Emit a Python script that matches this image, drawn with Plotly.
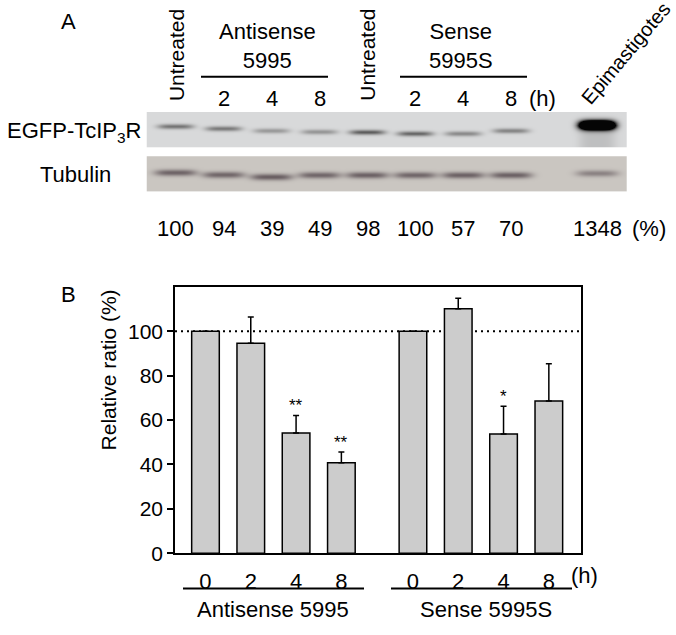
import numpy as np
import plotly.graph_objects as go

W, H = 676, 635
FONT = "Arial, 'Liberation Sans', sans-serif"

# ---- panel A: western blot ----
lane_labels = ["Untreated", "2", "4", "8", "Untreated", "2", "4", "8", "Epimastigotes"]
blot_pct = [100, 94, 39, 49, 98, 100, 57, 70, 1348]
egfp_signal = [0.52, 0.5, 0.34, 0.36, 0.62, 0.58, 0.42, 0.45, 2.6]
tubulin_signal = [0.8, 0.78, 0.85, 0.78, 0.82, 0.78, 0.82, 0.82, 0.55]

# ---- panel B: quantification ----
hours = ["0", "2", "4", "8"]
groups = ["Antisense 5995", "Sense 5995S"]
antisense_mean = [100, 94.6, 54.2, 40.8]
antisense_sem = [0, 11.9, 7.9, 4.8]
antisense_sig = ["", "", "**", "**"]
sense_mean = [100, 110.2, 53.7, 68.6]
sense_sem = [0, 4.7, 12.5, 16.8]
sense_sig = ["", "", "*", ""]


def px(x):
    return x / W


def py(y):
    return 1 - y / H


# lane layout: 8 lanes evenly spaced, an empty lane, then epimastigotes
lane_pos = list(range(8)) + [8.8]
LANE_RANGE = [-0.61, 9.41]
egfp_rows = [0.58, 0.52, 0.46, 0.43, 0.42, 0.38, 0.38, 0.46, 0.62]
egfp_thick = [0.07] * 8 + [0.13]
tub_rows = [0.52, 0.46, 0.4, 0.45, 0.45, 0.45, 0.45, 0.45, 0.5]


def band_image(signal, rows, thick, half_width):
    xs = np.linspace(LANE_RANGE[0], LANE_RANGE[1], 481)
    ys = np.linspace(0, 1, 37)
    X, Y = np.meshgrid(xs, ys)
    z = np.zeros_like(X)
    for pos, s, r, t in zip(lane_pos, signal, rows, thick):
        prof = np.exp(-np.abs((X - pos) / half_width) ** 4)
        z += s * prof * np.exp(-((Y - r) / t) ** 2)
        if s > 1:  # overloaded lane smears downwards
            z += 0.14 * prof * (Y < r)
    return xs, ys, np.clip(z, 0, 1)


fig = go.Figure()

xs, ys, z = band_image(egfp_signal, egfp_rows, egfp_thick, 0.38)
fig.add_trace(go.Heatmap(
    x=xs, y=ys, z=z, zmin=0, zmax=1, showscale=False, hoverinfo="skip",
    colorscale=[[0, "#d8d9da"], [0.45, "#858585"], [1, "#050505"]],
    xaxis="x2", yaxis="y2",
))
xs, ys, z = band_image(tubulin_signal, tub_rows, [0.09] * 9, 0.44)
fig.add_trace(go.Heatmap(
    x=xs, y=ys, z=z, zmin=0, zmax=1, showscale=False, hoverinfo="skip",
    colorscale=[[0, "#cac6c1"], [1, "#584c51"]],
    xaxis="x2", yaxis="y3",
))

# bars
GAP = 0.58
bar_x = []
for g, (means, sems, sigs) in enumerate(
    [(antisense_mean, antisense_sem, antisense_sig), (sense_mean, sense_sem, sense_sig)]
):
    xpos = [i + g * (len(hours) + GAP) for i in range(len(hours))]
    bar_x += xpos
    fig.add_trace(go.Bar(
        x=xpos, y=means, width=0.61, showlegend=False,
        marker=dict(color="#cccccc", line=dict(color="black", width=1.5)),
        error_y=dict(type="data", symmetric=False, array=sems,
                     arrayminus=[0] * len(sems), color="black",
                     thickness=1.5, width=3),
    ))
    for x, m, s, sig in zip(xpos, means, sems, sigs):
        if sig:
            fig.add_annotation(x=x, y=m + s, xref="x", yref="y", text=sig,
                               showarrow=False, xanchor="center", yanchor="middle",
                               yshift=10,
                               font=dict(size=17, color="black", family=FONT))

ann = []


def text(x, y, t, size=22, xref="paper", **kw):
    kw.setdefault("xanchor", "center")
    kw.setdefault("yanchor", "middle")
    ann.append(dict(x=x, y=y, xref=xref, yref="paper", text=t, showarrow=False,
                    font=dict(size=size, color="black", family=FONT), **kw))


# panel A labels
text(px(68), py(22), "A", 22)
text(px(74), py(134), "EGFP-TcIP<sub>3</sub>R")
text(px(75), py(178), "Tubulin")
for pos, lab in zip(lane_pos, lane_labels):
    if lab == "Untreated":
        text(pos, py(105), lab, 21, xref="x2", textangle=-90, yanchor="bottom")
    elif lab.isdigit():
        text(pos, py(100), lab, xref="x2")
text(px(626), py(54), lane_labels[-1], 20, textangle=-50)
text(px(542), py(100), "(h)")
text(px(267), py(47), "Antisense<br>5995")
text(px(461), py(47), "Sense<br>5995S")
for pos, v in zip(lane_pos, blot_pct):
    text(pos, py(233), str(v), xref="x2")
text(px(649), py(233), "(%)")

# panel B labels
text(px(68), py(300), "B", 22)
text(px(108), py(377), "Relative ratio (%)", 21, textangle=-90)
text(px(584), py(586), "(h)")
text(px(273), py(620), groups[0])
text(px(486), py(620), groups[1])

shapes = [
    dict(type="line", xref="paper", yref="paper", x0=px(201), x1=px(328),
         y0=py(78), y1=py(78), line=dict(color="black", width=2)),
    dict(type="line", xref="paper", yref="paper", x0=px(400), x1=px(527),
         y0=py(78), y1=py(78), line=dict(color="black", width=2)),
    dict(type="line", xref="paper", yref="paper", x0=px(183), x1=px(364),
         y0=py(599), y1=py(599), line=dict(color="black", width=2)),
    dict(type="line", xref="paper", yref="paper", x0=px(391), x1=px(572),
         y0=py(599), y1=py(599), line=dict(color="black", width=2)),
    dict(type="line", xref="x domain", yref="y", x0=0, x1=1, y0=100, y1=100,
         layer="below", line=dict(color="black", width=2, dash="2px,4px")),
]

fig.update_layout(
    width=W, height=H,
    margin=dict(l=0, r=0, t=0, b=0),
    paper_bgcolor="white", plot_bgcolor="white",
    font=dict(family=FONT, color="black"),
    showlegend=False,
    annotations=fig.layout.annotations + tuple(ann),
    shapes=shapes,
    xaxis=dict(domain=[px(175), px(581)], range=[-0.673, 8.29], anchor="y",
               tickvals=bar_x, ticktext=hours * len(groups), ticks="",
               ticklabelstandoff=8, tickfont=dict(size=22),
               showline=True, mirror=True, linecolor="black", linewidth=1.5,
               showgrid=False, zeroline=False, fixedrange=True),
    yaxis=dict(domain=[py(563), py(292)], range=[0, 120], anchor="x",
               tickvals=[0, 20, 40, 60, 80, 100], ticks="outside", ticklen=6,
               tickwidth=1.5, tickcolor="black", tickfont=dict(size=21),
               showline=True, mirror=True, linecolor="black", linewidth=1.5,
               showgrid=False, zeroline=False, fixedrange=True),
    xaxis2=dict(domain=[px(146.7), px(626.7)], range=LANE_RANGE, anchor="y2",
                visible=False, fixedrange=True),
    yaxis2=dict(domain=[py(150), py(114)], range=[0, 1], anchor="x2",
                visible=False, fixedrange=True),
    yaxis3=dict(domain=[py(195), py(159)], range=[0, 1], anchor="x2",
                visible=False, fixedrange=True),
)

fig.write_html("out.html", config={"displayModeBar": False})

# drop the browser's default body margin so the figure sits at the page origin
with open("out.html", encoding="utf-8") as f:
    page = f.read()
page = page.replace("<body>", '<body style="margin:0;overflow:hidden">', 1)
with open("out.html", "w", encoding="utf-8") as f:
    f.write(page)
